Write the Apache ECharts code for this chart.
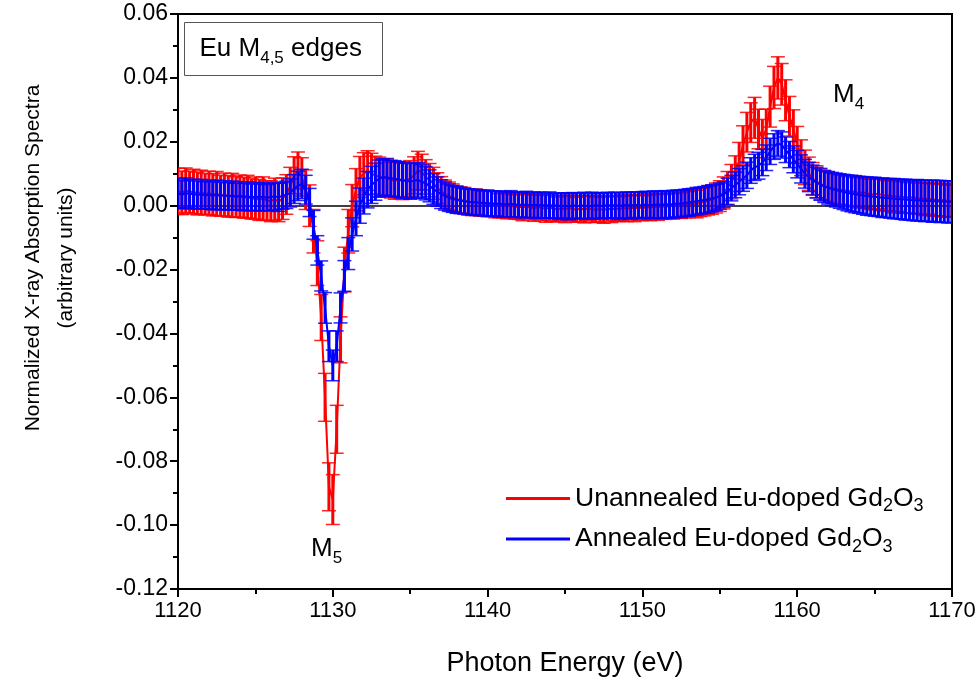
<!DOCTYPE html>
<html>
<head>
<meta charset="utf-8">
<script src="https://cdn.jsdelivr.net/npm/echarts@6/dist/echarts.min.js"></script>
<style>
html,body{margin:0;padding:0;background:#fff;}
#chart{width:979px;height:682px;}
</style>
</head>
<body>
<div id="chart"></div>
<script>
// Sampling grid of the spectra (eV)
var energyStart = 1120;
var energyStep = 0.25;

var xTicks = [1120, 1130, 1140, 1150, 1160, 1170];
var yTicks = [-0.12, -0.10, -0.08, -0.06, -0.04, -0.02, 0.00, 0.02, 0.04, 0.06];

var seriesNames = ['Unannealed Eu-doped Gd2O3', 'Annealed Eu-doped Gd2O3'];

// Unannealed (red) values, 4 per eV from 1120 to 1170
var unannealed = [
 .0045,.0040,.0048,.0042, .0044,.0038,.0042,.0036, .0040,.0034,.0038,.0031, .0035,.0029,.0033,.0027,
 .0030,.0025,.0028,.0021, .0024,.0018,.0022,.0016, .0014,.0020,.0012,.0022, .0035,.0060,.0095,.0110,
 .0090,.0050,.0000,-.0080, -.0180,-.0350,-.0600,-.0880, -.0920,-.0700,-.0420,-.0200, -.0080,.0000,.0050,.0090,
 .0100,.0110,.0100,.0095, .0090,.0085,.0088,.0080, .0078,.0082,.0076,.0080, .0085,.0095,.0110,.0105,
 .0090,.0080,.0070,.0055, .0045,.0035,.0030,.0025, .0020,.0018,.0015,.0012, .0010,.0012,.0008,.0006,
 .0005,.0007,.0003,.0000, .0002,-.0002,.0000,-.0004, -.0003,-.0006,-.0002,-.0005, -.0008,-.0004,-.0007,-.0010,
 -.0006,-.0009,-.0012,-.0008, -.0011,-.0007,-.0010,-.0013, -.0009,-.0012,-.0008,-.0011, -.0013,-.0010,-.0014,-.0009,
 -.0012,-.0008,-.0011,-.0007, -.0010,-.0006,-.0009,-.0005, -.0008,-.0004,-.0007,-.0003, -.0005,-.0001,-.0004,.0000,
 -.0002,.0002,.0000,.0004, .0003,.0007,.0005,.0010, .0012,.0016,.0019,.0024, .0030,.0040,.0055,.0075,
 .0100,.0140,.0190,.0230, .0260,.0275,.0240,.0210, .0240,.0310,.0370,.0400, .0380,.0330,.0280,.0240,
 .0190,.0150,.0120,.0100, .0085,.0075,.0068,.0062, .0058,.0055,.0052,.0050, .0048,.0045,.0046,.0042,
 .0040,.0042,.0038,.0036, .0035,.0037,.0033,.0031, .0032,.0028,.0030,.0026, .0027,.0024,.0026,.0022,
 .0023,.0020,.0022,.0018, .0019,.0016,.0018,.0014, .0015
];
var unannealedErr = [
 .0072,.0068,.0070,.0066, .0070,.0067,.0069,.0065, .0068,.0066,.0069,.0064, .0067,.0065,.0068,.0064,
 .0066,.0064,.0067,.0063, .0066,.0064,.0068,.0062, .0064,.0066,.0062,.0065, .0062,.0060,.0058,.0058,
 .0060,.0062,.0065,.0068, .0070,.0072,.0075,.0075, .0078,.0075,.0072,.0070, .0068,.0066,.0066,.0064,
 .0066,.0062,.0064,.0060, .0062,.0058,.0060,.0056, .0058,.0055,.0057,.0054, .0056,.0058,.0060,.0056,
 .0054,.0052,.0050,.0048, .0046,.0045,.0044,.0043, .0042,.0041,.0042,.0040, .0041,.0040,.0041,.0039,
 .0040,.0039,.0041,.0038, .0040,.0039,.0040,.0038, .0040,.0041,.0039,.0040, .0041,.0039,.0040,.0042,
 .0040,.0041,.0039,.0040, .0042,.0040,.0041,.0039, .0040,.0042,.0039,.0041, .0040,.0042,.0041,.0039,
 .0041,.0040,.0039,.0041, .0040,.0039,.0041,.0040, .0039,.0041,.0040,.0039, .0041,.0040,.0039,.0040,
 .0040,.0041,.0040,.0042, .0041,.0042,.0043,.0044, .0044,.0045,.0046,.0047, .0048,.0050,.0052,.0054,
 .0056,.0058,.0060,.0062, .0062,.0064,.0062,.0060, .0062,.0064,.0066,.0066, .0065,.0064,.0062,.0060,
 .0058,.0056,.0054,.0052, .0050,.0050,.0049,.0048, .0048,.0047,.0048,.0046, .0047,.0046,.0048,.0046,
 .0047,.0048,.0046,.0047, .0048,.0047,.0049,.0047, .0048,.0050,.0048,.0049, .0050,.0048,.0050,.0049,
 .0050,.0051,.0049,.0050, .0051,.0050,.0052,.0050, .0051
];

// Annealed (blue) values, 4 per eV from 1120 to 1170
var annealed = [
 .0038,.0034,.0040,.0036, .0037,.0033,.0036,.0032, .0035,.0031,.0034,.0030, .0033,.0029,.0032,.0028,
 .0031,.0027,.0030,.0026, .0029,.0026,.0028,.0025, .0027,.0029,.0026,.0031, .0034,.0040,.0052,.0062,
 .0068,.0050,.0010,-.0060, -.0140,-.0220,-.0320,-.0440, -.0500,-.0440,-.0320,-.0220, -.0150,-.0090,-.0040,.0000,
 .0030,.0050,.0065,.0075, .0085,.0090,.0088,.0086, .0084,.0082,.0080,.0078, .0076,.0078,.0080,.0075,
 .0070,.0062,.0052,.0044, .0036,.0030,.0025,.0021, .0018,.0016,.0014,.0012, .0011,.0010,.0009,.0008,
 .0008,.0006,.0007,.0005, .0005,.0004,.0006,.0003, .0004,.0002,.0004,.0001, .0003,.0001,.0002,.0000,
 .0002,-.0001,.0001,-.0002, .0000,-.0002,.0001,-.0001, -.0001,.0001,-.0002,.0000, .0001,-.0001,.0000,.0002,
 .0000,.0002,-.0001,.0001, .0002,.0000,.0003,.0001, .0002,.0004,.0001,.0003, .0004,.0002,.0005,.0003,
 .0005,.0007,.0006,.0009, .0010,.0012,.0014,.0016, .0018,.0020,.0023,.0026, .0030,.0035,.0045,.0055,
 .0065,.0075,.0085,.0095, .0110,.0120,.0125,.0135, .0150,.0170,.0185,.0195, .0190,.0175,.0160,.0145,
 .0130,.0115,.0100,.0090, .0080,.0072,.0066,.0060, .0056,.0052,.0049,.0046, .0043,.0040,.0038,.0036,
 .0034,.0032,.0030,.0029, .0028,.0026,.0025,.0024, .0023,.0022,.0021,.0020, .0019,.0018,.0017,.0017,
 .0016,.0015,.0015,.0014, .0014,.0013,.0013,.0012, .0012
];
var annealedErr = [
 .0046,.0044,.0047,.0045, .0046,.0044,.0046,.0043, .0045,.0044,.0046,.0043, .0045,.0043,.0045,.0042,
 .0044,.0043,.0045,.0042, .0044,.0042,.0044,.0041, .0043,.0042,.0044,.0042, .0043,.0044,.0045,.0046,
 .0046,.0045,.0044,.0045, .0046,.0047,.0048,.0048, .0048,.0048,.0047,.0048, .0050,.0052,.0054,.0055,
 .0056,.0057,.0058,.0058, .0058,.0057,.0058,.0056, .0057,.0056,.0057,.0055, .0056,.0055,.0054,.0053,
 .0052,.0050,.0048,.0046, .0045,.0044,.0043,.0042, .0042,.0041,.0040,.0041, .0040,.0041,.0039,.0040,
 .0041,.0040,.0039,.0041, .0040,.0039,.0041,.0040, .0039,.0040,.0041,.0039, .0040,.0041,.0040,.0039,
 .0041,.0040,.0039,.0041, .0040,.0042,.0040,.0041, .0039,.0041,.0040,.0042, .0040,.0041,.0039,.0040,
 .0041,.0040,.0042,.0040, .0041,.0042,.0040,.0041, .0042,.0041,.0042,.0043, .0042,.0043,.0042,.0043,
 .0043,.0042,.0043,.0042, .0043,.0042,.0043,.0042, .0042,.0043,.0042,.0041, .0041,.0040,.0041,.0040,
 .0040,.0041,.0040,.0041, .0040,.0041,.0042,.0041, .0040,.0041,.0040,.0040, .0041,.0040,.0041,.0042,
 .0043,.0044,.0045,.0046, .0047,.0048,.0049,.0050, .0051,.0052,.0053,.0054, .0055,.0056,.0057,.0058,
 .0058,.0059,.0060,.0060, .0061,.0060,.0062,.0061, .0062,.0063,.0062,.0063, .0064,.0063,.0064,.0065,
 .0064,.0065,.0064,.0066, .0065,.0066,.0065,.0066, .0066
];

function energyAt(i){ return energyStart + i * energyStep; }
function pairs(vals){ return vals.map(function(v,i){ return [energyAt(i), v]; }); }
function triples(vals, errs){ return vals.map(function(v,i){ return [energyAt(i), v, errs[i]]; }); }

var FONT = 'Liberation Sans, Arial, Helvetica, sans-serif';

function errorBarRenderer(color){
  return function(params, api){
    var x = api.value(0), y = api.value(1), e = api.value(2);
    var hi = api.coord([x, y + e]);
    var lo = api.coord([x, y - e]);
    var hw = 7;
    var vs = {stroke: color, lineWidth: 3};
    var cs = {stroke: color, lineWidth: 1.5, opacity: 0.85};
    return {
      type: 'group',
      children: [
        {type:'line', shape:{x1:hi[0], y1:hi[1], x2:lo[0], y2:lo[1]}, style: vs},
        {type:'line', shape:{x1:hi[0]-hw, y1:hi[1], x2:hi[0]+hw, y2:hi[1]}, style: cs},
        {type:'line', shape:{x1:lo[0]-hw, y1:lo[1], x2:lo[0]+hw, y2:lo[1]}, style: cs}
      ]
    };
  };
}

function legendRich(name){
  var base = name.replace(/Gd2O3$/, '');
  return '{t|' + base + 'Gd}{s|2}{t|O}{s|3}';
}

var chart = echarts.init(document.getElementById('chart'), null, {renderer: 'canvas'});

var option = {
  animation: false,
  backgroundColor: '#fff',
  grid: {left: 178, right: 27, top: 14, bottom: 92, show: true, borderColor: '#000', borderWidth: 2, backgroundColor: 'transparent'},
  xAxis: {
    type: 'value', min: xTicks[0], max: xTicks[xTicks.length-1], interval: 10,
    name: 'Photon Energy (eV)', nameLocation: 'middle', nameGap: 61,
    nameTextStyle: {fontFamily: FONT, fontSize: 27, color: '#000'},
    axisLine: {show: true, onZero: false, lineStyle: {color: '#000', width: 2}},
    axisTick: {show: true, inside: false, length: 8, lineStyle: {color: '#000', width: 2}},
    minorTick: {show: true, splitNumber: 2, length: 5, lineStyle: {color: '#000', width: 2}},
    axisLabel: {fontFamily: FONT, fontSize: 22, color: '#000', margin: 11,
      formatter: function(v){ return String(v); }},
    splitLine: {show: false}
  },
  yAxis: {
    type: 'value', min: yTicks[0], max: yTicks[yTicks.length-1], interval: 0.02,
    axisLine: {show: true, onZero: false, lineStyle: {color: '#000', width: 2}},
    axisTick: {show: true, inside: false, length: 8, lineStyle: {color: '#000', width: 2}},
    minorTick: {show: true, splitNumber: 2, length: 5, lineStyle: {color: '#000', width: 2}},
    axisLabel: {fontFamily: FONT, fontSize: 23, color: '#000', margin: 10,
      formatter: function(v){ return v.toFixed(2); }},
    splitLine: {show: false}
  },
  legend: {
    left: 501, top: 480, orient: 'vertical', itemGap: 10, itemWidth: 64, itemHeight: 3,
    data: [
      {name: seriesNames[0], icon: 'rect', itemStyle: {color: '#ff0000'}},
      {name: seriesNames[1], icon: 'rect', itemStyle: {color: '#0000ff'}}
    ],
    formatter: legendRich,
    textStyle: {
      color: '#000', fontFamily: FONT,
      rich: {
        t: {fontFamily: FONT, fontSize: 26.5, color: '#000', lineHeight: 34, verticalAlign: 'middle'},
        s: {fontFamily: FONT, fontSize: 18, color: '#000', lineHeight: 16, verticalAlign: 'bottom'}
      }
    },
    selectedMode: false
  },
  graphic: [
    {
      type: 'group', left: 184, top: 22,
      children: [
        {type: 'rect', shape: {x: 0, y: 0, width: 198, height: 53}, style: {fill: '#fff', stroke: '#555', lineWidth: 1}},
        {type: 'text', x: 15, y: 26, style: {
          text: '{a|Eu M}{b|4,5}{a| edges}', textVerticalAlign: 'middle',
          rich: {
            a: {fontFamily: FONT, fontSize: 26, fill: '#000', lineHeight: 36, verticalAlign: 'middle'},
            b: {fontFamily: FONT, fontSize: 17, fill: '#000', lineHeight: 14, verticalAlign: 'bottom'}
          }
        }}
      ]
    },
    {
      type: 'text', left: 311, top: 536, style: {
        text: '{a|M}{b|5}',
        rich: {
          a: {fontFamily: FONT, fontSize: 26, fill: '#000', lineHeight: 36, verticalAlign: 'middle'},
          b: {fontFamily: FONT, fontSize: 17, fill: '#000', lineHeight: 14, verticalAlign: 'bottom'}
        }
      }
    },
    {
      type: 'text', left: 833, top: 82, style: {
        text: '{a|M}{b|4}',
        rich: {
          a: {fontFamily: FONT, fontSize: 26, fill: '#000', lineHeight: 36, verticalAlign: 'middle'},
          b: {fontFamily: FONT, fontSize: 17, fill: '#000', lineHeight: 14, verticalAlign: 'bottom'}
        }
      }
    },
    {
      type: 'text', x: 50, y: 258, rotation: Math.PI / 2,
      style: {
        text: 'Normalized X-ray Absorption Spectra\n(arbitrary units)',
        fontFamily: FONT, fontSize: 21, fill: '#000', lineHeight: 33,
        textAlign: 'center', textVerticalAlign: 'middle'
      }
    }
  ],
  series: [
    {
      type: 'custom', name: seriesNames[0], renderItem: errorBarRenderer('#ff0000'),
      data: triples(unannealed, unannealedErr), encode: {x: 0, y: 1}, clip: true, silent: true, z: 2
    },
    {
      type: 'line', name: seriesNames[0], data: pairs(unannealed), showSymbol: false,
      lineStyle: {color: '#ff0000', width: 2}, itemStyle: {color: '#ff0000'}, silent: true, z: 2,
      markLine: {silent: true, symbol: ['none','none'], label: {show: false},
        lineStyle: {color: '#000', width: 1.5, type: 'solid'}, data: [{yAxis: 0}], z: 1}
    },
    {
      type: 'custom', name: seriesNames[1], renderItem: errorBarRenderer('#0000ff'),
      data: triples(annealed, annealedErr), encode: {x: 0, y: 1}, clip: true, silent: true, z: 3
    },
    {
      type: 'line', name: seriesNames[1], data: pairs(annealed), showSymbol: false,
      lineStyle: {color: '#0000ff', width: 2}, itemStyle: {color: '#0000ff'}, silent: true, z: 3
    }
  ]
};
chart.setOption(option);
</script>
</body>
</html>
